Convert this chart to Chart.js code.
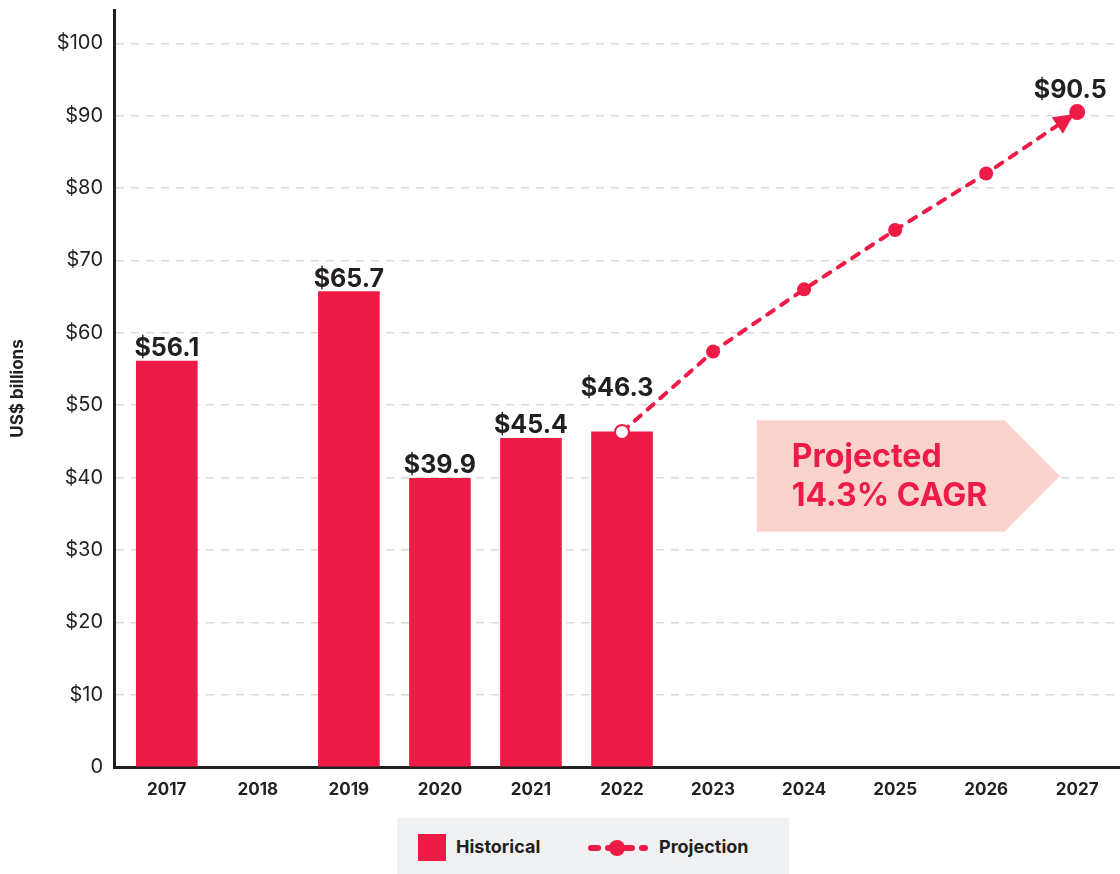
<!DOCTYPE html>
<html>
<head>
<meta charset="utf-8">
<script src="https://cdn.jsdelivr.net/npm/chart.js@4.4.1/dist/chart.umd.min.js"></script>
<style>
  html, body { margin: 0; padding: 0; background: #fff; }
  #wrap { position: relative; width: 1120px; height: 874px; overflow: hidden; }
  #chart { position: absolute; left: 0; top: 0; }
  .legend { position: absolute; left: 397px; top: 818px; width: 392px; height: 56px; background: #f0f1f3;
            font-family: Inter, "Noto Sans", sans-serif; font-weight: 700; font-size: 18px; color: #231f20; }
  .legend .sq { position: absolute; left: 21px; top: 16px; width: 28px; height: 27px; background: #ee1b47; }
  .legend .t1 { position: absolute; left: 59px; top: 18px; line-height: 22px; }
  .legend svg { position: absolute; left: 189px; top: 19px; }
  .legend .t2 { position: absolute; left: 262px; top: 18px; line-height: 22px; }
</style>
</head>
<body>
<div id="wrap">
  <canvas id="chart" width="1120" height="810"></canvas>
  <div class="legend">
    <div class="sq"></div><div class="t1">Historical</div>
    <svg width="62" height="22" viewBox="0 0 62 22">
      <line x1="3" y1="11" x2="59" y2="11" stroke="#ee1b47" stroke-width="6" stroke-linecap="round" stroke-dasharray="7 10" stroke-dashoffset="-2"/>
      <circle cx="31" cy="11" r="8" fill="#ee1b47"/>
    </svg>
    <div class="t2">Projection</div>
  </div>
</div>
<script>
const years = [2017, 2018, 2019, 2020, 2021, 2022, 2023, 2024, 2025, 2026, 2027];
const historical = [56.1, null, 65.7, 39.9, 45.4, 46.3, null, null, null, null, null];
const projection = [null, null, null, null, null, 46.3, 57.4, 66.0, 74.2, 82.0, 90.5];
const yTicks = [0, 10, 20, 30, 40, 50, 60, 70, 80, 90, 100];
const cagrText = ['Projected', '14.3% CAGR'];

const RED = '#ee1b47';
const INK = '#231f20';
const FONT = 'Inter, "Noto Sans", sans-serif';

// pink arrow-shaped box with the CAGR note, placed in axis units
const cagrBox = {
  id: 'cagrBox',
  beforeDatasetsDraw(chart) {
    const { ctx, scales: { x, y } } = chart;
    const left = x.getPixelForValue(2023.48);
    const right = x.getPixelForValue(2026.2);
    const tip = x.getPixelForValue(2026.81);
    const top = y.getPixelForValue(47.9);
    const bottom = y.getPixelForValue(32.5);
    const mid = (top + bottom) / 2;
    ctx.save();
    ctx.fillStyle = '#fad4cc';
    ctx.beginPath();
    ctx.moveTo(left, top);
    ctx.lineTo(right, top);
    ctx.lineTo(tip, mid);
    ctx.lineTo(right, bottom);
    ctx.lineTo(left, bottom);
    ctx.closePath();
    ctx.fill();
    ctx.fillStyle = RED;
    ctx.font = '700 32px ' + FONT;
    ctx.textAlign = 'left';
    ctx.textBaseline = 'alphabetic';
    ctx.fillText(cagrText[0], left + 35, top + 47);
    ctx.fillText(cagrText[1], left + 35, top + 86);
    ctx.restore();
  }
};

// value labels over the bars and the last projected point, plus the arrow head
const valueLabels = {
  id: 'valueLabels',
  afterDatasetsDraw(chart) {
    const ctx = chart.ctx;
    const bars = chart.getDatasetMeta(0).data;
    const pts = chart.getDatasetMeta(1).data;
    ctx.save();

    // arrow head just before the last point
    const last = projection.length - 1;
    const p1 = pts[last - 1], p2 = pts[last];
    const dx = p2.x - p1.x, dy = p2.y - p1.y;
    const len = Math.hypot(dx, dy);
    const ux = dx / len, uy = dy / len;
    const tx = p2.x - ux * 4, ty = p2.y - uy * 4;
    const bx = tx - ux * 20, by = ty - uy * 20;
    ctx.fillStyle = RED;
    ctx.beginPath();
    ctx.moveTo(tx, ty);
    ctx.lineTo(bx - uy * 10, by + ux * 10);
    ctx.lineTo(bx + uy * 10, by - ux * 10);
    ctx.closePath();
    ctx.fill();

    ctx.fillStyle = INK;
    ctx.font = '700 25px ' + FONT;
    ctx.textAlign = 'center';
    ctx.textBaseline = 'alphabetic';
    historical.forEach((v, i) => {
      if (v === null) return;
      const bar = bars[i];
      const lift = projection[i] !== null ? 36 : 5;
      ctx.fillText('$' + v.toFixed(1), bar.x - (projection[i] !== null ? 5 : 0), bar.y - lift);
    });
    const lp = pts[last];
    ctx.fillText('$' + projection[last].toFixed(1), lp.x - 7, lp.y - 14);
    ctx.restore();
  }
};

new Chart(document.getElementById('chart'), {
  type: 'bar',
  data: {
    labels: years,
    datasets: [
      {
        label: 'Historical',
        data: historical,
        backgroundColor: RED,
        barThickness: 61,
        order: 1
      },
      {
        type: 'line',
        label: 'Projection',
        data: projection,
        borderColor: RED,
        borderWidth: 4,
        borderDash: [8, 9],
        borderCapStyle: 'round',
        pointRadius: [0, 0, 0, 0, 0, 7, 7, 7, 7, 7, 8],
        pointBackgroundColor: ['#fff', '#fff', '#fff', '#fff', '#fff', '#fff', RED, RED, RED, RED, RED],
        pointBorderColor: RED,
        pointBorderWidth: [0, 0, 0, 0, 0, 2, 0, 0, 0, 0, 0],
        spanGaps: false,
        order: 0
      }
    ]
  },
  options: {
    responsive: false,
    animation: false,
    layout: { autoPadding: false, padding: { top: 10, right: 0, bottom: 9, left: 0 } },
    plugins: {
      legend: { display: false },
      tooltip: { enabled: false }
    },
    scales: {
      x: {
        type: 'linear',
        offset: false,
        min: 2016.42,
        max: 2027.47,
        grid: { display: false, drawTicks: false },
        border: { display: true, color: INK, width: 3 },
        ticks: {
          color: INK,
          padding: 13,
          font: { family: FONT, size: 17, weight: '700' },
          callback: v => String(v)
        },
        afterBuildTicks(scale) { scale.ticks = years.map(v => ({ value: v })); },
        afterFit(scale) {
          scale.height = 34;
          scale.paddingLeft = 0;
          scale.paddingRight = 0;
        }
      },
      y: {
        min: 0,
        max: 104.6,
        grid: { color: '#d9d9d9', lineWidth: 1.5, drawTicks: false },
        border: { display: true, color: INK, width: 3, dash: [8, 7] },
        ticks: {
          color: INK,
          padding: 11,
          font: { family: FONT, size: 20, weight: '400' },
          callback: v => v === 0 ? '0' : '$' + v
        },
        afterBuildTicks(scale) { scale.ticks = yTicks.map(v => ({ value: v })); },
        afterFit(scale) {
          scale.width = 114;
          scale.paddingTop = 0;
          scale.paddingBottom = 0;
        },
        title: {
          display: true,
          text: 'US$ billions',
          color: INK,
          padding: { top: 8, bottom: 0 },
          font: { family: FONT, size: 17, weight: '700' }
        }
      }
    }
  },
  plugins: [cagrBox, valueLabels]
});
</script>
</body>
</html>
